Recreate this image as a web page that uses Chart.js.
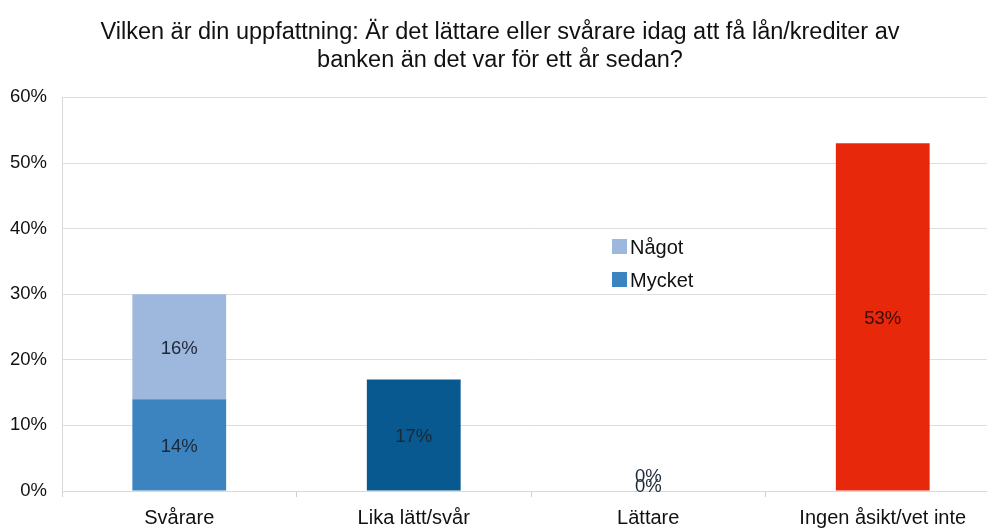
<!DOCTYPE html>
<html>
<head>
<meta charset="utf-8">
<script src="https://cdn.jsdelivr.net/npm/chart.js@4/dist/chart.umd.min.js"></script>
<style>
  html, body { margin: 0; padding: 0; background: #fff; overflow: hidden; }
  #wrap { width: 1000px; height: 529px; }
</style>
</head>
<body>
<div id="wrap"><canvas id="chart"></canvas></div>
<script>
const categories = ["Svårare", "Lika lätt/svår", "Lättare", "Ingen åsikt/vet inte"];
const mycket = [14, 17, 0, 53];
const nagot = [16, null, 0, null];
const yTicks = [0, 10, 20, 30, 40, 50, 60];

const mycketColors = ["#3b84c0", "#07598f", "#3b84c0", "#e8280b"];
const nagotColor = "#9db8dc";
const FONT = "'Liberation Sans', Arial, sans-serif";

// draws the % labels on the bars
const barLabels = {
  id: "barLabels",
  afterDatasetsDraw(chart) {
    const ctx = chart.ctx;
    ctx.save();
    ctx.font = "18.5px " + FONT;
    ctx.textAlign = "center";
    chart.data.datasets.forEach((ds, di) => {
      const meta = chart.getDatasetMeta(di);
      meta.data.forEach((bar, i) => {
        const v = ds.data[i];
        if (v === null || v === undefined) return;
        ctx.fillStyle = i === 3 ? "#3a0a02" : "#1c2838";
        if (v === 0) {
          ctx.textBaseline = "middle";
          ctx.fillText(v + "%", bar.x, bar.base - 4 - di * 10);
        } else {
          ctx.textBaseline = "middle";
          ctx.fillText(v + "%", bar.x, (bar.y + bar.base) / 2 + 2);
        }
      });
    });
    ctx.restore();
  }
};

// legend sitting inside the plot area
const innerLegend = {
  id: "innerLegend",
  afterDraw(chart) {
    const ctx = chart.ctx;
    const items = [["Något", nagotColor], ["Mycket", "#3b84c0"]];
    ctx.save();
    ctx.font = "20px " + FONT;
    ctx.textBaseline = "middle";
    ctx.textAlign = "left";
    items.forEach((it, k) => {
      const y = 247 + k * 33;
      ctx.fillStyle = it[1];
      ctx.fillRect(612, y - 8, 15, 15);
      ctx.fillStyle = "#111";
      ctx.fillText(it[0], 630, y + 1);
    });
    ctx.restore();
  }
};

new Chart(document.getElementById("chart"), {
  type: "bar",
  data: {
    labels: categories,
    datasets: [
      { label: "Mycket", data: mycket, backgroundColor: mycketColors, borderWidth: 0 },
      { label: "Något", data: nagot, backgroundColor: nagotColor, borderWidth: 0 }
    ]
  },
  options: {
    responsive: true,
    maintainAspectRatio: false,
    animation: false,
    layout: { padding: 0 },
    datasets: { bar: { barPercentage: 0.4, categoryPercentage: 1 } },
    plugins: {
      legend: { display: false },
      tooltip: { enabled: false },
      title: {
        display: true,
        text: ["Vilken är din uppfattning: Är det lättare eller svårare idag att få lån/krediter av",
               "banken än det var för ett år sedan?"],
        color: "#111",
        font: { family: FONT, size: 23.5, weight: "normal", lineHeight: 1.2 },
        padding: { top: 18, bottom: 23 }
      }
    },
    scales: {
      x: {
        stacked: true,
        grid: { offset: true, drawOnChartArea: false, color: "#d0d0d0", tickLength: 6 },
        border: { color: "#d8d8d8" },
        ticks: { color: "#111", font: { family: FONT, size: 20 }, padding: 9 },
        afterFit(s) { s.height = 38; }
      },
      y: {
        stacked: true,
        min: 0,
        max: 60,
        afterBuildTicks(s) { s.ticks = yTicks.map(v => ({ value: v })); },
        grid: { color: "#dedede", drawTicks: false },
        border: { color: "#d8d8d8" },
        ticks: {
          color: "#111",
          padding: 15,
          font: { family: FONT, size: 18.5 },
          callback: v => v + "%"
        },
        afterFit(s) { s.width = 62; }
      }
    }
  },
  plugins: [barLabels, innerLegend]
});
</script>
</body>
</html>
